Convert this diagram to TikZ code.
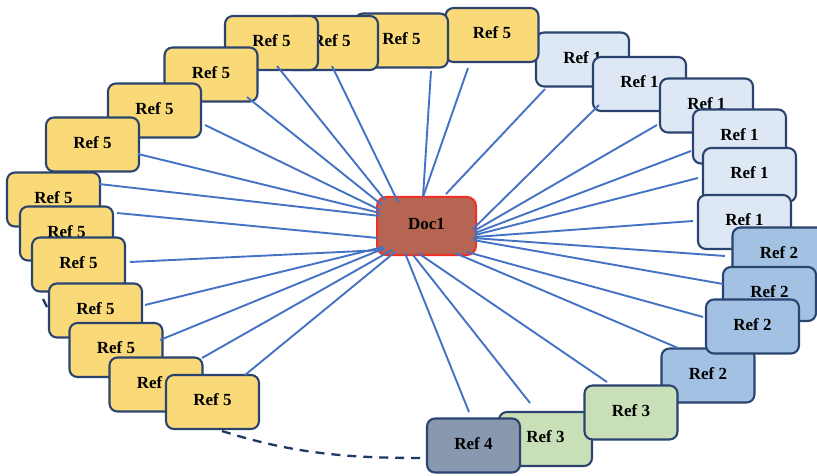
\documentclass[tikz,border=0pt]{standalone}
\usepackage{fontspec}
\setmainfont{Liberation Serif}
\definecolor{boxline}{HTML}{2B446F}
\definecolor{fillfive}{HTML}{F9D978}
\definecolor{fillone}{HTML}{DDE8F4}
\definecolor{filltwo}{HTML}{A2C1E3}
\definecolor{fillthree}{HTML}{C9DFB7}
\definecolor{fillfour}{HTML}{8898AF}
\definecolor{docfill}{HTML}{B66552}
\definecolor{docline}{HTML}{EE3124}
\definecolor{linkblue}{HTML}{4472C4}
\definecolor{arcnavy}{HTML}{1F3864}
% connector from a point of Doc1 to a point of a reference box (offsets from centres)
\newcommand\linkref[3]{\draw[link] ([shift={(#1)}]doc.center) -- ([shift={(#3)}]#2.center);}
\begin{document}
\begin{tikzpicture}[x=1pt,y=-1pt,
  refbox/.style={draw=boxline, line width=2.1pt, rounded corners=8pt,
    minimum width=93pt, minimum height=54pt, inner sep=0pt, text depth=4pt,
    font=\fontsize{17}{20}\selectfont\bfseries},
  five/.style={refbox, fill=fillfive},
  one/.style={refbox, fill=fillone},
  two/.style={refbox, fill=filltwo},
  three/.style={refbox, fill=fillthree},
  four/.style={refbox, fill=fillfour},
  docbox/.style={draw=docline, fill=docfill, line width=2pt, rounded corners=9pt,
    minimum width=99pt, minimum height=58pt, inner sep=0pt, text depth=4pt,
    font=\fontsize{17}{20}\selectfont\bfseries},
  link/.style={draw=linkblue, line width=1.9pt},
  arc/.style={draw=arcnavy, line width=2.3pt, dash pattern=on 9pt off 7pt}]
\useasboundingbox (0,0) rectangle (817,476);
\fill[white] (0,0) rectangle (817,476);

% dashed arc along the bottom
\coordinate (arcstart) at (222,431);
\coordinate (arcpeek) at (43,299);
\draw[arc] (arcstart) .. controls (300,456) and (360,458) .. (425,458);
\draw[arc, dash pattern=] (arcpeek) -- (47,307);

% first Ref 1 box sits behind the last Ref 5 box
\node[one] (b1) at (582.5,59.5) {Ref 1};

% Ref 5 group, back to front
\node[five] (a4) at (492,35) {Ref 5};
\node[five] (a3) at (401.5,40.5) {Ref 5};
\node[five] (a2) at (331.5,43) {Ref 5};
\node[five] (a1) at (271.5,43) {Ref 5};
\node[five] (a5) at (211,74.5) {Ref 5};
\node[five] (a6) at (154.5,110.5) {Ref 5};
\node[five] (a7) at (92.5,144.5) {Ref 5};
\node[five] (a8) at (53.5,199.5) {Ref 5};
\node[five] (a9) at (66.5,233.5) {Ref 5};
\node[five] (a10) at (78.5,264.5) {Ref 5};
\node[five] (a11) at (95.5,310.5) {Ref 5};
\node[five] (a12) at (116,350) {Ref 5};
\node[five] (a13) at (156,384.5) {Ref 5};
\node[five] (a14) at (212.5,402) {Ref 5};

% remaining Ref 1 group
\node[one] (b2) at (639.5,84) {Ref 1};
\node[one] (b3) at (706.5,105.5) {Ref 1};
\node[one] (b4) at (739.5,136.5) {Ref 1};
\node[one] (b5) at (749.5,175) {Ref 1};
\node[one] (b6) at (744.5,222) {Ref 1};

% Ref 2 group
\node[two] (c1) at (779,254.5) {Ref 2};
\node[two] (c2) at (769.5,294) {Ref 2};
\node[two] (c4) at (708,375.5) {Ref 2};
\node[two] (c3) at (752.5,326.5) {Ref 2};

% Ref 3 and Ref 4
\node[three] (d2) at (545.5,439) {Ref 3};
\node[four] (e) at (473.5,445.5) {Ref 4};
\node[three] (d1) at (631,412.5) {Ref 3};

% central document
\node[docbox] (doc) at (426.5,226) {Doc1};

% connectors
\linkref{-41.5,-26}{a1}{5.5,23}
\linkref{-28.5,-24}{a2}{0.5,23}
\linkref{-3.5,-29}{a3}{29.5,30.5}
\linkref{-3.5,-29}{a4}{-24,33}
\linkref{-44.5,-21}{a5}{36,22.5}
\linkref{-46.5,-16}{a6}{50.5,14.5}
\linkref{-46.5,-13}{a7}{45.5,9.5}
\linkref{-46.5,-10}{a8}{45.5,-15.5}
\linkref{-48.5,12}{a9}{50.5,-20.5}
\linkref{-43.5,24}{a10}{51.5,-2.5}
\linkref{-43.5,21}{a11}{49.5,-5.5}
\linkref{-41.5,22}{a12}{44,-10}
\linkref{-34.5,24}{a13}{46,-26.5}
\linkref{-31.5,26}{a14}{32.5,-27}
\linkref{19.5,-32}{b1}{-37.5,29.5}
\linkref{46.5,3}{b2}{-40.5,21}
\linkref{47.5,5}{b3}{-49.5,19.5}
\linkref{48.5,7}{b4}{-48.5,14.5}
\linkref{48.5,9}{b5}{-51.5,3}
\linkref{48.5,11}{b6}{-51.5,-1}
\linkref{46.5,12}{c1}{-54,1.5}
\linkref{46.5,14}{c2}{-46.5,-10}
\linkref{40.5,26}{c3}{-49.5,-9.5}
\linkref{28.5,27}{c4}{-30,-27.5}
\linkref{-8.5,27}{d1}{-24,-30.5}
\linkref{-13.5,29}{d2}{-15.5,-36}
\linkref{-21.5,27}{e}{-4.5,-33.5}
\end{tikzpicture}
\end{document}
